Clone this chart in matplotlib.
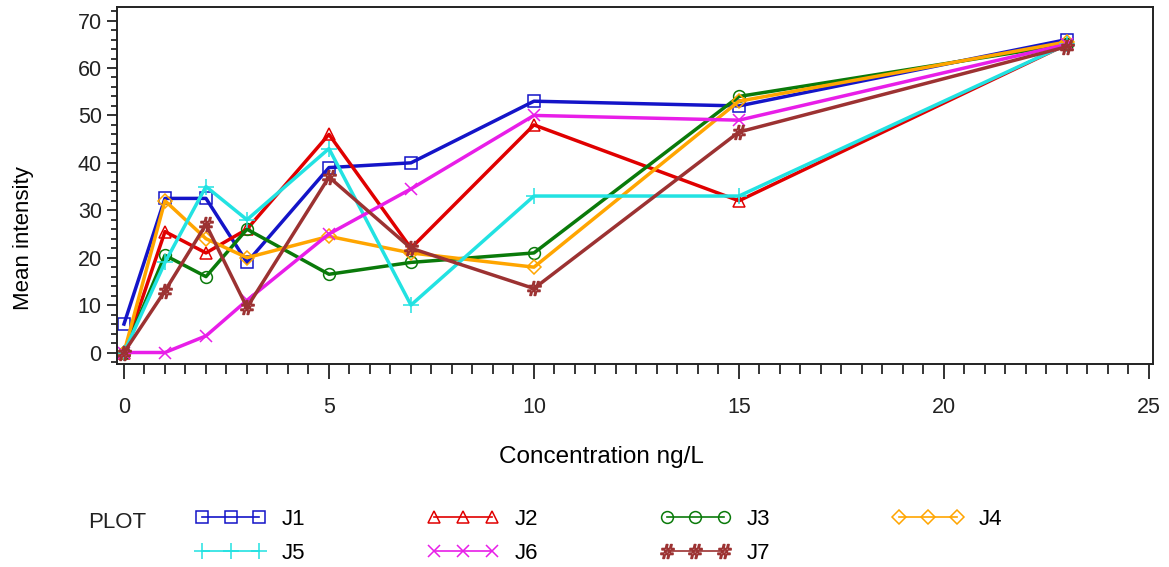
import numpy as np
import matplotlib
matplotlib.use('Agg')
import matplotlib.pyplot as plt
from matplotlib.lines import Line2D
from matplotlib.ticker import MultipleLocator

plt.rcParams['font.family'] = ['Liberation Sans', 'DejaVu Sans']

# concentration levels (ng/L)
conc = [0, 1, 2, 3, 5, 7, 10, 15, 23]

# mean intensity per plot
J1 = [6, 32.5, 32.5, 19, 39, 40, 53, 52, 66]
J2 = [0, 25.5, 21, 26, 46, 22, 48, 32, 65]
J3 = [0, 20.5, 16, 26, 16.5, 19, 21, 54, 65]
J4 = [0, 32, 24, 20, 24.5, 21, 18, 53, 65.5]
J5 = [0, 19, 35, 28, 43, 10, 33, 33, 65]
J6 = [0, 0, 3.5, 11, 25, 34.5, 50, 49, 65]
J7 = [0, 13, 27, 9.5, 37, 22, 13.5, 46.5, 64.5]

names = ['J1', 'J2', 'J3', 'J4', 'J5', 'J6', 'J7']
series = [J1, J2, J3, J4, J5, J6, J7]
colors = ['#1414c8', '#e00000', '#0a7a0a', '#ffa500', '#22e2e2', '#e81ee8', '#9c3232']
markers = ['s', '^', 'o', 'D', '+', 'x', r'$\#$']
msizes = [8.5, 8.5, 8.5, 7, 11, 9, 10]

my_dpi = 100
fig = plt.figure(figsize=(1169/my_dpi, 567/my_dpi), dpi=my_dpi)
ax = fig.add_axes([0.1001, 0.3589, 0.8862, 0.6282])

handles = []
for ys, c, m, ms, nm in zip(series, colors, markers, msizes, names):
    ax.plot(conc, ys, color=c, lw=2.5, marker=m, ms=ms,
            mfc='none', mec=c, mew=1.1)
    handles.append(Line2D([], [], color=c, lw=1.2, marker=m, ms=ms,
                          mfc='none', mec=c, mew=1.1, label=nm))

ax.set_xlim(-0.17, 25.1)
ax.set_ylim(-2.32, 72.8)
ax.xaxis.set_major_locator(MultipleLocator(5))
ax.xaxis.set_minor_locator(MultipleLocator(0.5))
ax.yaxis.set_major_locator(MultipleLocator(10))
ax.yaxis.set_minor_locator(MultipleLocator(2))
ax.tick_params(axis='x', which='major', direction='out', length=11, width=1.3,
               pad=13, labelsize=15.5, colors='#222222')
ax.tick_params(axis='x', which='minor', direction='out', length=7, width=1.1)
ax.tick_params(axis='y', which='major', direction='out', length=7, width=1.3,
               pad=4, labelsize=15.5, colors='#222222')
ax.tick_params(axis='y', which='minor', direction='out', length=4, width=1.1)
for sp in ax.spines.values():
    sp.set_linewidth(1.4)
    sp.set_color('#222222')

fig.text(601/1169, 1 - 457/567, 'Concentration ng/L', ha='center', va='center',
         fontsize=17.5)
fig.text(23/1169, 1 - 238/567, 'Mean intensity', ha='center', va='center',
         rotation=90, fontsize=16)

# legend laid out row by row: J1..J4 on top, J5..J7 below
order = [0, 4, 1, 5, 2, 6, 3]
fig.text(88/1169, 1 - 522/567, 'PLOT', ha='left', va='center', fontsize=16,
         color='#222222')
fig.legend([handles[i] for i in order], [names[i] for i in order],
           loc='upper left', bbox_to_anchor=(195/1169, 1 - 509/567),
           ncol=4, numpoints=3, frameon=False, fontsize=16,
           handlelength=3.2, handletextpad=0.7, columnspacing=5.5,
           labelspacing=0.58, borderpad=0, borderaxespad=0)

fig.savefig('out.png', dpi=my_dpi)
